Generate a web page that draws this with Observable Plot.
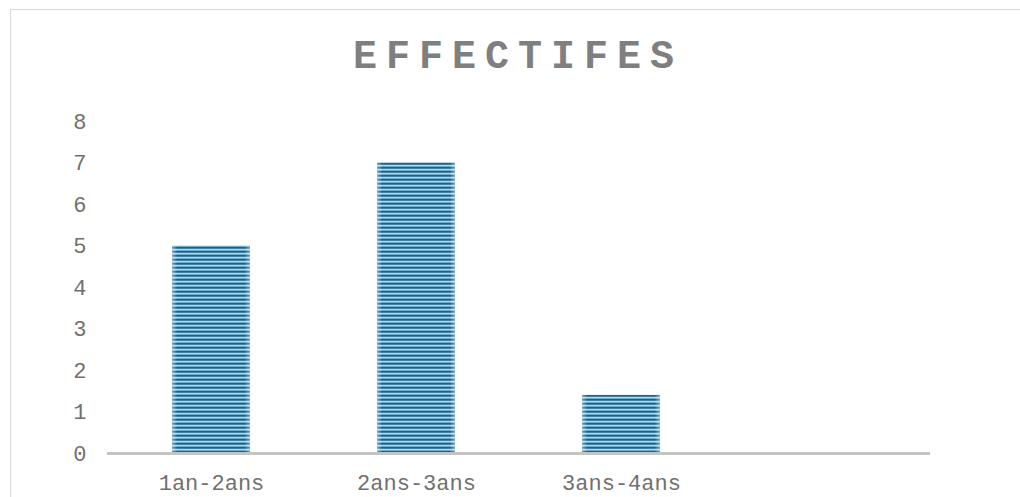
<!DOCTYPE html>
<html>
<head>
<meta charset="utf-8">
<script src="https://cdn.jsdelivr.net/npm/d3@7"></script>
<script src="https://cdn.jsdelivr.net/npm/@observablehq/plot@0.6"></script>
<style>
  html, body { margin: 0; padding: 0; background: #fff; }
  #chart { position: relative; width: 1020px; height: 497px; overflow: hidden; }
  #frame { position: absolute; left: 10px; top: 9px; width: 1020px; height: 497px;
           border: 1px solid #d9d9d9; box-sizing: border-box; pointer-events: none; }
  #title { position: absolute; left: 0; top: 38px; width: 1020px; text-align: center;
           font-family: "Liberation Mono", "Courier New", monospace; font-weight: bold;
           font-size: 40px; line-height: 40px; letter-spacing: 9px; color: #7f7f7f;
           padding-left: 16px; box-sizing: border-box; }
  #plot { position: absolute; left: 0; top: 95px; }
  #plot svg { display: block; }
</style>
</head>
<body>
<div id="chart">
  <div id="frame"></div>
  <div id="title">EFFECTIFES</div>
  <div id="plot"></div>
</div>
<script>
// Age groups (the last slot is left empty on purpose)
const categories = ["1an-2ans", "2ans-3ans", "3ans-4ans", ""];
// Headcount per age group
const effectifs = [5, 7, 1.4];
// Y axis ticks
const yTicks = [0, 1, 2, 3, 4, 5, 6, 7, 8];

const data = effectifs.map((v, i) => ({ groupe: categories[i], effectif: v }));

const chart = Plot.plot({
  width: 1020,
  height: 402,
  marginTop: 26,
  marginBottom: 44,
  marginLeft: 107,
  marginRight: 90,
  style: { fontFamily: "'Liberation Mono', 'Courier New', monospace", color: "#707070", background: "transparent" },
  x: { domain: categories, paddingInner: 0.62, paddingOuter: 0.31, label: null },
  y: { domain: [0, 8], label: null },
  marks: [
    Plot.axisY({ ticks: yTicks, tickSize: 0, tickPadding: 21, fontSize: 22, label: null }),
    Plot.axisX({ tickSize: 0, tickPadding: 21, fontSize: 22, label: null }),
    Plot.barY(data, { x: "groupe", y: "effectif", fill: "url(#stripes)" }),
    Plot.barY(data, { x: "groupe", y: "effectif", fill: "url(#edges)" }),
    Plot.ruleY([0], { stroke: "#c4c4c4", strokeWidth: 3 })
  ]
});

// Striped fill and edge shading used by the bars
const ns = "http://www.w3.org/2000/svg";
const defs = document.createElementNS(ns, "defs");
defs.innerHTML = `
  <pattern id="stripes" patternUnits="userSpaceOnUse" width="4" height="4">
    <rect x="0" y="0" width="4" height="1" fill="#235e7f"/>
    <rect x="0" y="1" width="4" height="1" fill="#3f82a5"/>
    <rect x="0" y="2" width="4" height="1" fill="#b0d8e9"/>
    <rect x="0" y="3" width="4" height="1" fill="#6fabc9"/>
  </pattern>
  <linearGradient id="edges" x1="0" x2="1" y1="0" y2="0">
    <stop offset="0" stop-color="#ffffff" stop-opacity="0.4"/>
    <stop offset="0.07" stop-color="#ffffff" stop-opacity="0"/>
    <stop offset="0.93" stop-color="#ffffff" stop-opacity="0"/>
    <stop offset="1" stop-color="#ffffff" stop-opacity="0.4"/>
  </linearGradient>`;
chart.insertBefore(defs, chart.firstChild);

document.getElementById("plot").appendChild(chart);
</script>
</body>
</html>
